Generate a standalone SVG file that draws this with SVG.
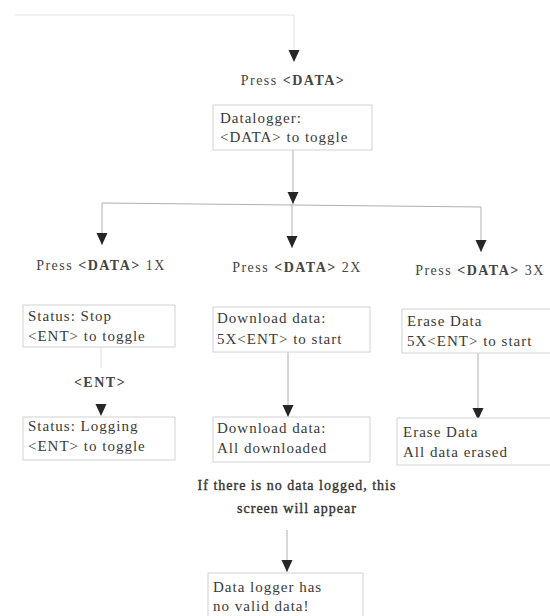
<svg xmlns="http://www.w3.org/2000/svg" width="550" height="616" viewBox="0 0 550 616">
<style>
text{font-family:"Liberation Serif","Times New Roman",serif;fill:#3a3a3a}
.bx{fill:#fff;stroke:#d2d2d2;stroke-width:1}
.bt{font-size:15px;letter-spacing:1px}
.lb{font-size:14px;letter-spacing:1.5px;text-anchor:middle;fill:#444}
.b{font-weight:bold}
.note{font-size:14px;letter-spacing:1px;text-anchor:middle;fill:#333;stroke:#333;stroke-width:0.35px}
.cn{fill:none;stroke:#b0b0b0;stroke-width:1}
</style>
<defs>
<marker id="ah" markerUnits="userSpaceOnUse" markerWidth="13" markerHeight="13" viewBox="0 -6.5 13 13" refX="12" refY="0" orient="auto">
<path d="M0,-5.5 L12,0 L0,5.5 z" fill="#262626"/>
</marker>
</defs>
<g id="connectors">
<path class="cn" d="M15,15 H294 V62" style="stroke:#e2e2e2" marker-end="url(#ah)"/>
<path class="cn" d="M293,150 V204" marker-end="url(#ah)"/>
<path class="cn" d="M102,203 L481,207"/>
<path class="cn" d="M102,203 V245" marker-end="url(#ah)"/>
<path class="cn" d="M292,204 V248" marker-end="url(#ah)"/>
<path class="cn" d="M481,207 V252" marker-end="url(#ah)"/>
<path class="cn" d="M101,347 V368" style="stroke:#e0e0e0"/>
<path class="cn" d="M101,396 V416" style="stroke:none" marker-end="url(#ah)"/>
<path class="cn" d="M288,352 V417" marker-end="url(#ah)"/>
<path class="cn" d="M478,353 V420" marker-end="url(#ah)"/>
<path class="cn" d="M287,530 V572" marker-end="url(#ah)"/>
</g>
<g id="press-data">
<text class="lb" x="293" y="85">Press <tspan class="b">&lt;DATA&gt;</tspan></text>
</g>
<g id="datalogger">
<rect class="bx" x="213" y="105" width="159" height="45"/>
<text class="bt" x="220" y="123">Datalogger:</text>
<text class="bt" x="220" y="142">&lt;DATA&gt; to toggle</text>
</g>
<g id="press-1x">
<text class="lb" x="101" y="270">Press <tspan class="b">&lt;DATA&gt;</tspan> 1X</text>
</g>
<g id="press-2x">
<text class="lb" x="297" y="272">Press <tspan class="b">&lt;DATA&gt;</tspan> 2X</text>
</g>
<g id="press-3x">
<text class="lb" x="480" y="275">Press <tspan class="b">&lt;DATA&gt;</tspan> 3X</text>
</g>
<g id="status-stop">
<rect class="bx" x="23" y="305" width="152" height="42"/>
<text class="bt" x="28" y="321">Status: Stop</text>
<text class="bt" x="28" y="341">&lt;ENT&gt; to toggle</text>
</g>
<g id="ent-label">
<text class="lb b" x="100" y="387">&lt;ENT&gt;</text>
</g>
<g id="status-logging">
<rect class="bx" x="23" y="417" width="152" height="43"/>
<text class="bt" x="28" y="431">Status: Logging</text>
<text class="bt" x="28" y="451">&lt;ENT&gt; to toggle</text>
</g>
<g id="download-start">
<rect class="bx" x="213" y="307" width="157" height="45"/>
<text class="bt" x="217" y="323">Download data:</text>
<text class="bt" x="217" y="344">5X&lt;ENT&gt; to start</text>
</g>
<g id="download-done">
<rect class="bx" x="213" y="417" width="157" height="45"/>
<text class="bt" x="217" y="433">Download data:</text>
<text class="bt" x="217" y="453">All downloaded</text>
</g>
<g id="erase-start">
<rect class="bx" x="402" y="309" width="152" height="44"/>
<text class="bt" x="407" y="326">Erase Data</text>
<text class="bt" x="407" y="346">5X&lt;ENT&gt; to start</text>
</g>
<g id="erase-done">
<rect class="bx" x="397" y="418" width="157" height="47"/>
<text class="bt" x="403" y="437">Erase Data</text>
<text class="bt" x="403" y="457">All data erased</text>
</g>
<g id="note">
<text class="note" x="297" y="490">If there is no data logged, this</text>
<text class="note" x="297" y="513">screen will appear</text>
</g>
<g id="no-data">
<rect class="bx" x="208" y="573" width="155" height="50"/>
<text class="bt" x="213" y="592">Data logger has</text>
<text class="bt" x="213" y="611">no valid data!</text>
</g>
</svg>
